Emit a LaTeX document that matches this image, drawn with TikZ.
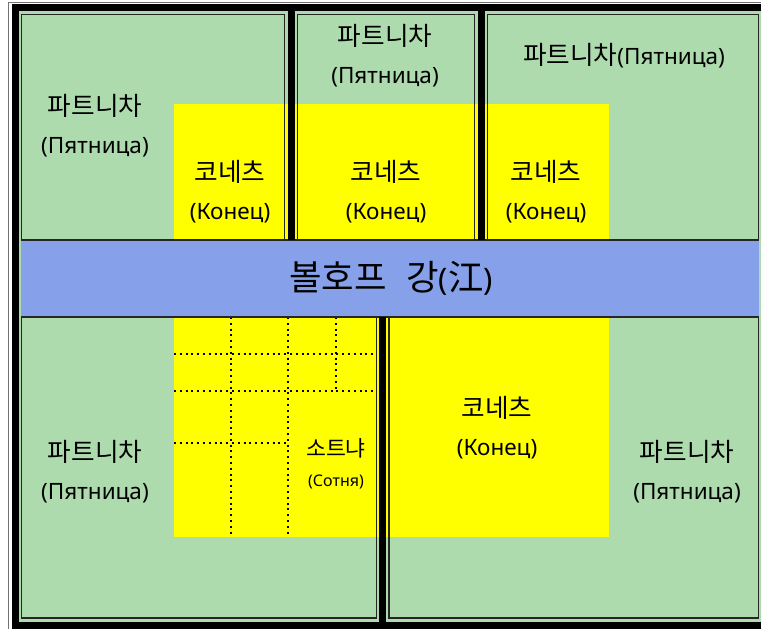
\documentclass[tikz,border=0pt]{standalone}
\usepackage{fontspec}
\setmainfont{Noto Sans}
\newfontfamily\kr[Scale=1.14]{Noto Sans CJK KR}
\definecolor{cellgreen}{RGB}{174,219,174}
\definecolor{riverblue}{RGB}{134,161,233}
\definecolor{fortyellow}{RGB}{255,255,0}
\tikzset{
  thickrule/.style={line width=7pt, black},
  thinrule/.style={line width=1.4pt, black!85},
  outerrule/.style={line width=1pt, black!55},
  dotrule/.style={line width=1.9pt, black, dash pattern=on 1.9pt off 3.9pt},
  lbl/.style={align=center, font=\fontsize{22.5}{38}\selectfont, inner sep=0pt},
  smalllbl/.style={align=center, inner sep=0pt},
}
\begin{document}
\begin{tikzpicture}[x=1pt,y=-1pt]
\useasboundingbox (0,0) rectangle (761,629);
% backgrounds
\fill[cellgreen] (19,11) rectangle (761,622);
\fill[fortyellow] (174,104) rectangle (609,240);
\fill[fortyellow] (174,317) rectangle (609,537);
% dotted streets
\draw[dotrule] (231,317) -- (231,537);
\draw[dotrule] (288,317) -- (288,537);
\draw[dotrule] (336,317) -- (336,391);
\draw[dotrule] (174,354) -- (376,354);
\draw[dotrule] (174,391) -- (376,391);
\draw[dotrule] (174,443) -- (288,443);
% river
\fill[riverblue] (21,240) rectangle (759,317);
\draw[thinrule] (21,240) -- (759,240);
\draw[thinrule] (21,317) -- (759,317);
% outer frame
\draw[outerrule] (8,629) -- (8,2) -- (761,2);
\draw[thickrule] (15.5,629) -- (15.5,4);
\draw[thickrule] (12,7.5) -- (761,7.5);
\draw[thickrule] (12,625.5) -- (761,625.5);
% dividers
\draw[thickrule] (291,4) -- (291,240);
\draw[thickrule] (481,4) -- (481,240);
\draw[thickrule] (382.5,317) -- (382.5,629);
% cell borders
\draw[thinrule] (21.5,240) -- (21.5,14.5) -- (284.5,14.5) -- (284.5,240);
\draw[thinrule] (297.5,240) -- (297.5,14.5) -- (474.5,14.5) -- (474.5,240);
\draw[thinrule] (487.5,240) -- (487.5,14.5) -- (758.5,14.5) -- (758.5,240);
\draw[thinrule] (21.5,317) -- (21.5,618) -- (376.5,618) -- (376.5,317);
\draw[thinrule] (389,317) -- (389,618) -- (758.5,618) -- (758.5,317);
% labels
\node[lbl] (ptl) at (95,126) {{\kr 파트니차}\\(Пятница)};
\node[lbl] (ptm) at (385,56) {{\kr 파트니차}\\(Пятница)};
\node[lbl] (ptr) at (624,56) {{\kr 파트니차}(Пятница)};
\node[lbl] (k1) at (230,192) {{\kr 코네츠}\\(Конец)};
\node[lbl] (k2) at (386,192) {{\kr 코네츠}\\(Конец)};
\node[lbl] (k3) at (546,192) {{\kr 코네츠}\\(Конец)};
\node[lbl, font=\fontsize{31}{36}\selectfont] (river) at (391,278) {{\kr 볼호프\hspace{0.55em}강}({\kr 江})};
\node[lbl] (k4) at (497,428) {{\kr 코네츠}\\(Конец)};
\node[smalllbl] (s1) at (336,448) {\fontsize{19}{22}\selectfont\kr 소트냐};
\node[smalllbl] (s2) at (336,482) {\fontsize{16}{18}\selectfont (Сотня)};
\node[lbl] (pbl) at (95,472) {{\kr 파트니차}\\(Пятница)};
\node[lbl] (pbr) at (687,472) {{\kr 파트니차}\\(Пятница)};
\end{tikzpicture}
\end{document}
